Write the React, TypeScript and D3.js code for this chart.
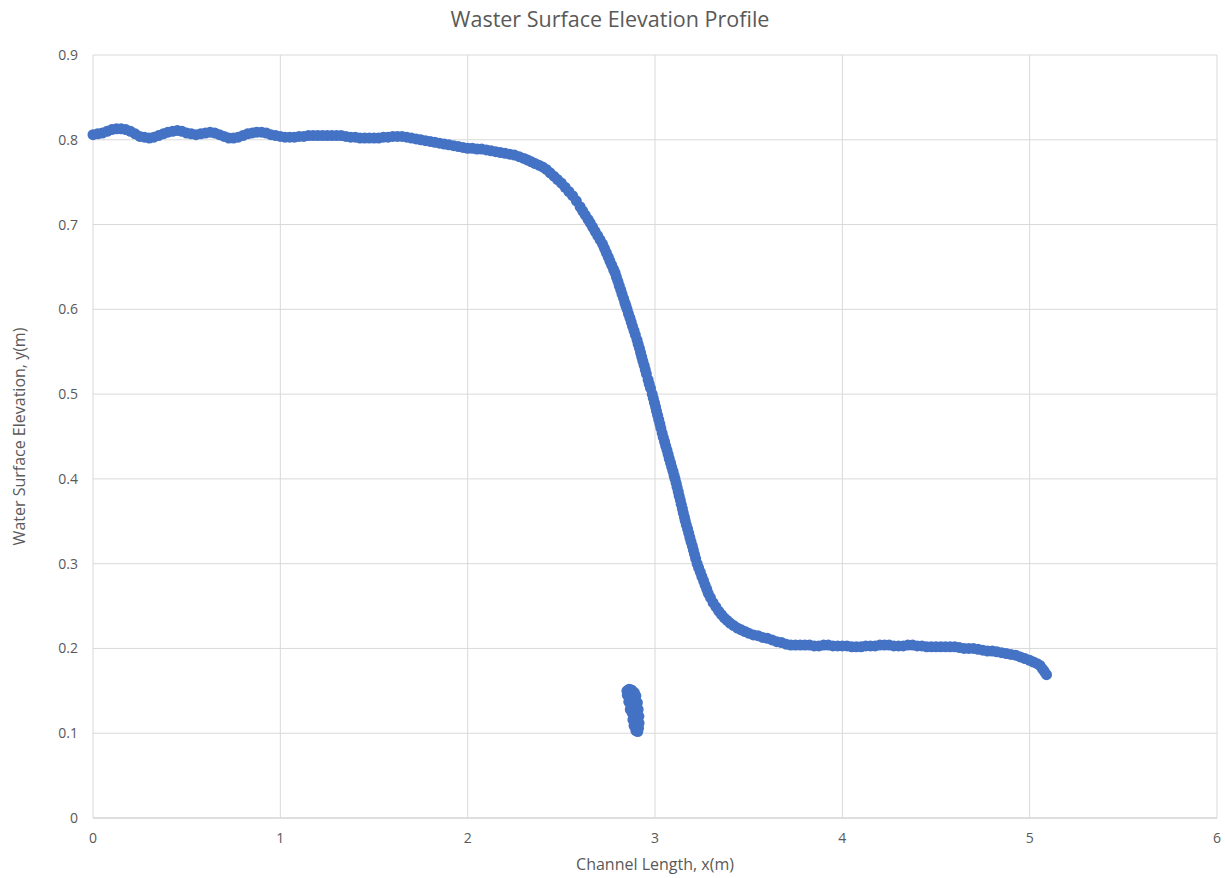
import React from 'react';
import * as d3 from 'd3';

// main profile: [x (m), y (m)]
const profile: [number, number][] = [
  [0.0, 0.806], [0.025, 0.807], [0.05, 0.808], [0.075, 0.81], [0.1, 0.812],
  [0.125, 0.813], [0.15, 0.813], [0.175, 0.812], [0.2, 0.81], [0.225, 0.807],
  [0.25, 0.804], [0.275, 0.803], [0.3, 0.802], [0.325, 0.803], [0.35, 0.805],
  [0.375, 0.807], [0.4, 0.809], [0.425, 0.81], [0.45, 0.811], [0.475, 0.81],
  [0.5, 0.808], [0.525, 0.807], [0.55, 0.806], [0.575, 0.807], [0.6, 0.808],
  [0.625, 0.809], [0.65, 0.808], [0.675, 0.806], [0.7, 0.804], [0.725, 0.802],
  [0.75, 0.802], [0.775, 0.803], [0.8, 0.805], [0.825, 0.807], [0.85, 0.808],
  [0.875, 0.809], [0.9, 0.809], [0.925, 0.808], [0.95, 0.806], [0.975, 0.805],
  [1.0, 0.804], [1.025, 0.803], [1.05, 0.803], [1.075, 0.803], [1.1, 0.804],
  [1.125, 0.804], [1.15, 0.805], [1.175, 0.805], [1.2, 0.805], [1.225, 0.805],
  [1.25, 0.805], [1.275, 0.805], [1.3, 0.805], [1.325, 0.805], [1.35, 0.804],
  [1.375, 0.803], [1.4, 0.803], [1.425, 0.802], [1.45, 0.802], [1.475, 0.802],
  [1.5, 0.802], [1.525, 0.802], [1.55, 0.803], [1.575, 0.803], [1.6, 0.804],
  [1.625, 0.804], [1.65, 0.804], [1.675, 0.803], [1.7, 0.802], [1.725, 0.801],
  [1.75, 0.8], [1.775, 0.799], [1.8, 0.798], [1.825, 0.797], [1.85, 0.796],
  [1.875, 0.795], [1.9, 0.794], [1.925, 0.793], [1.95, 0.792], [1.975, 0.791],
  [2.0, 0.79], [2.025, 0.79], [2.05, 0.789], [2.075, 0.789], [2.1, 0.788],
  [2.125, 0.787], [2.15, 0.786], [2.175, 0.785], [2.2, 0.784], [2.225, 0.783],
  [2.25, 0.782], [2.275, 0.78], [2.3, 0.778], [2.32, 0.776], [2.34, 0.774],
  [2.36, 0.772], [2.38, 0.77], [2.4, 0.768], [2.42, 0.765], [2.44, 0.761],
  [2.46, 0.757], [2.48, 0.753], [2.5, 0.749], [2.52, 0.744], [2.54, 0.739],
  [2.56, 0.734], [2.58, 0.728], [2.6, 0.721], [2.614, 0.716], [2.628, 0.711],
  [2.643, 0.706], [2.654, 0.702], [2.667, 0.697], [2.68, 0.692], [2.694, 0.687],
  [2.707, 0.682], [2.72, 0.677], [2.73, 0.672], [2.74, 0.667], [2.75, 0.662],
  [2.759, 0.657], [2.769, 0.652], [2.779, 0.647], [2.787, 0.643], [2.794, 0.638],
  [2.802, 0.633], [2.809, 0.628], [2.817, 0.623], [2.824, 0.618], [2.832, 0.613],
  [2.839, 0.608], [2.845, 0.604], [2.851, 0.6], [2.858, 0.595], [2.866, 0.59],
  [2.873, 0.585], [2.88, 0.58], [2.888, 0.575], [2.895, 0.57], [2.904, 0.564],
  [2.91, 0.559], [2.917, 0.554], [2.923, 0.549], [2.929, 0.544], [2.935, 0.539],
  [2.942, 0.534], [2.948, 0.529], [2.954, 0.524], [2.963, 0.517], [2.969, 0.512],
  [2.976, 0.507], [2.985, 0.5], [2.991, 0.495], [2.997, 0.49], [3.003, 0.485],
  [3.008, 0.48], [3.014, 0.475], [3.02, 0.47], [3.026, 0.465], [3.031, 0.46],
  [3.038, 0.454], [3.044, 0.449], [3.051, 0.444], [3.057, 0.439], [3.064, 0.434],
  [3.07, 0.429], [3.076, 0.424], [3.083, 0.419], [3.089, 0.414], [3.096, 0.409],
  [3.102, 0.404], [3.107, 0.4], [3.113, 0.395], [3.118, 0.39], [3.124, 0.385],
  [3.129, 0.38], [3.135, 0.375], [3.14, 0.37], [3.146, 0.365], [3.151, 0.36],
  [3.157, 0.355], [3.161, 0.351], [3.167, 0.346], [3.174, 0.341], [3.18, 0.336],
  [3.186, 0.331], [3.192, 0.326], [3.199, 0.321], [3.205, 0.316], [3.211, 0.311],
  [3.217, 0.306], [3.225, 0.3], [3.233, 0.295], [3.242, 0.29], [3.25, 0.285],
  [3.259, 0.28], [3.267, 0.275], [3.276, 0.27], [3.284, 0.265], [3.296, 0.26],
  [3.31, 0.254], [3.325, 0.249], [3.34, 0.244], [3.355, 0.24], [3.37, 0.236],
  [3.385, 0.233], [3.4, 0.23], [3.42, 0.227], [3.44, 0.224], [3.46, 0.222],
  [3.48, 0.22], [3.5, 0.218], [3.525, 0.216], [3.55, 0.215], [3.575, 0.213],
  [3.6, 0.212], [3.625, 0.21], [3.65, 0.208], [3.675, 0.207], [3.7, 0.205],
  [3.725, 0.204], [3.75, 0.204], [3.775, 0.204], [3.8, 0.204], [3.825, 0.204],
  [3.85, 0.203], [3.875, 0.203], [3.9, 0.204], [3.925, 0.204], [3.95, 0.203],
  [3.975, 0.203], [4.0, 0.203], [4.025, 0.203], [4.05, 0.202], [4.075, 0.202],
  [4.1, 0.202], [4.125, 0.203], [4.15, 0.203], [4.175, 0.203], [4.2, 0.204],
  [4.225, 0.204], [4.25, 0.204], [4.275, 0.203], [4.3, 0.203], [4.325, 0.203],
  [4.35, 0.204], [4.375, 0.204], [4.4, 0.203], [4.425, 0.203], [4.45, 0.202],
  [4.475, 0.202], [4.5, 0.202], [4.525, 0.202], [4.55, 0.202], [4.575, 0.202],
  [4.6, 0.202], [4.625, 0.201], [4.65, 0.2], [4.675, 0.2], [4.7, 0.2],
  [4.725, 0.199], [4.75, 0.198], [4.775, 0.197], [4.8, 0.197], [4.825, 0.196],
  [4.85, 0.195], [4.875, 0.194], [4.9, 0.193], [4.925, 0.192], [4.95, 0.19],
  [4.975, 0.188], [5.0, 0.186], [5.02, 0.184], [5.04, 0.182], [5.055, 0.18],
  [5.068, 0.176], [5.078, 0.173], [5.09, 0.169],
];

// the small detached cluster near x = 2.9
const cluster: [number, number][] = [
  [2.85, 0.15], [2.862, 0.152], [2.875, 0.151], [2.89, 0.148], [2.898, 0.144],
  [2.852, 0.145], [2.865, 0.142], [2.88, 0.14], [2.895, 0.138], [2.906, 0.136],
  [2.86, 0.137], [2.872, 0.133], [2.886, 0.131], [2.9, 0.129], [2.91, 0.128],
  [2.868, 0.128], [2.878, 0.124], [2.892, 0.122], [2.905, 0.121], [2.914, 0.12],
  [2.882, 0.116], [2.895, 0.114], [2.906, 0.113], [2.915, 0.112], [2.888, 0.109],
  [2.9, 0.107], [2.912, 0.106], [2.898, 0.103], [2.908, 0.102],
];

const xTicks = [0, 1, 2, 3, 4, 5, 6];
const yTicks = [0, 0.1, 0.2, 0.3, 0.4, 0.5, 0.6, 0.7, 0.8, 0.9];

const W = 1225;
const H = 878;
const margin = { left: 93, right: 8, top: 55, bottom: 60 };
const font = "'Open Sans', sans-serif";
const textColor = '#595959';
const dotColor = '#4472C4';

export default function App() {
  const x = d3.scaleLinear().domain([0, 6]).range([margin.left, W - margin.right]);
  const y = d3.scaleLinear().domain([0, 0.9]).range([H - margin.bottom, margin.top]);

  return (
    <svg
      width={W}
      height={H}
      style={{ position: 'absolute', left: 0, top: 0, background: '#fff' }}
      fontFamily={font}
    >
      {/* grid */}
      {yTicks.map(t => (
        <line key={'gy' + t} x1={x(0)} x2={x(6)} y1={y(t)} y2={y(t)}
          stroke={t === 0 ? '#bfbfbf' : '#d9d9d9'} strokeWidth={1} />
      ))}
      {xTicks.map(t => (
        <line key={'gx' + t} x1={x(t)} x2={x(t)} y1={y(0)} y2={y(0.9)}
          stroke="#d9d9d9" strokeWidth={1} />
      ))}

      {/* tick labels */}
      {yTicks.map(t => (
        <text key={'ty' + t} x={x(0) - 15} y={y(t) + 5} textAnchor="end"
          fontSize={14} fill={textColor}>
          {d3.format('~g')(t)}
        </text>
      ))}
      {xTicks.map(t => (
        <text key={'tx' + t} x={x(t)} y={y(0) + 25} textAnchor="middle"
          fontSize={14} fill={textColor}>
          {t}
        </text>
      ))}

      {/* points */}
      {profile.map((d, i) => (
        <circle key={'p' + i} cx={x(d[0])} cy={y(d[1])} r={5.5} fill={dotColor} />
      ))}
      {cluster.map((d, i) => (
        <circle key={'c' + i} cx={x(d[0])} cy={y(d[1])} r={5.5} fill={dotColor} />
      ))}

      {/* titles */}
      <text x={610} y={27} textAnchor="middle" fontSize={21.5} fill={textColor}>
        Waster Surface Elevation Profile
      </text>
      <text x={655} y={870} textAnchor="middle" fontSize={16} fill={textColor}>
        Channel Length, x(m)
      </text>
      <text transform={`translate(25, ${(y(0) + y(0.9)) / 2}) rotate(-90)`}
        textAnchor="middle" fontSize={16} fill={textColor}>
        Water Surface Elevation, y(m)
      </text>
    </svg>
  );
}
